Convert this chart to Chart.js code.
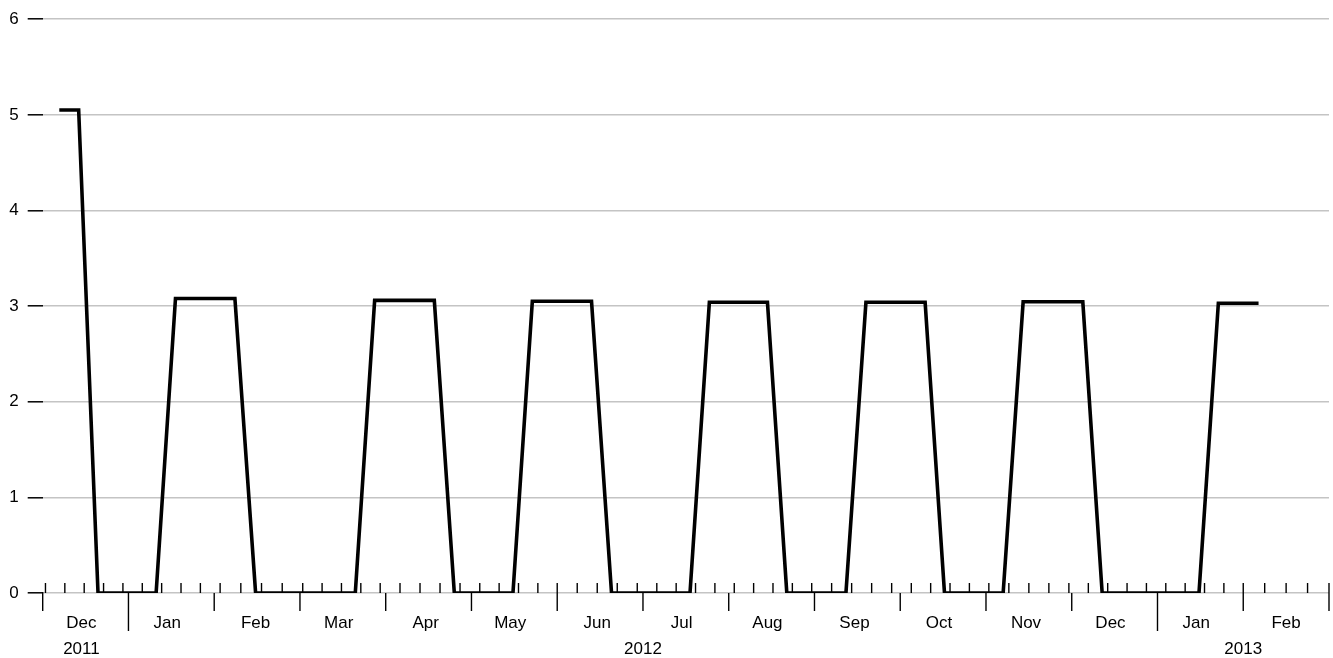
<!DOCTYPE html>
<html>
<head>
<meta charset="utf-8">
<script src="https://cdn.jsdelivr.net/npm/chart.js@4/dist/chart.umd.min.js"></script>
<style>
  html, body { margin: 0; padding: 0; background: #fff; overflow: hidden; }
  #wrap { width: 1333px; height: 658px; position: relative; }
</style>
</head>
<body>
<div id="wrap"><canvas id="c"></canvas></div>
<script>
// ---- data ----
const dates = ['2011-12-07','2011-12-14','2011-12-21','2011-12-28',
  '2012-01-04','2012-01-11','2012-01-18','2012-01-25',
  '2012-02-01','2012-02-08','2012-02-15','2012-02-22','2012-02-29',
  '2012-03-07','2012-03-14','2012-03-21','2012-03-28',
  '2012-04-04','2012-04-11','2012-04-18','2012-04-25',
  '2012-05-02','2012-05-09','2012-05-16','2012-05-23','2012-05-30',
  '2012-06-06','2012-06-13','2012-06-20','2012-06-27',
  '2012-07-04','2012-07-11','2012-07-18','2012-07-25',
  '2012-08-01','2012-08-08','2012-08-15','2012-08-22','2012-08-29',
  '2012-09-05','2012-09-12','2012-09-19','2012-09-26',
  '2012-10-03','2012-10-10','2012-10-17','2012-10-24','2012-10-31',
  '2012-11-07','2012-11-14','2012-11-21','2012-11-28',
  '2012-12-05','2012-12-12','2012-12-19','2012-12-26',
  '2013-01-02','2013-01-09','2013-01-16','2013-01-23','2013-01-30',
  '2013-02-06'];
const values = [5.05,5.05,
  0,0,0,0,
  3.08,3.08,3.08,3.08,
  0,0,0,0,0,0,
  3.06,3.06,3.06,3.06,
  0,0,0,0,
  3.05,3.05,3.05,3.05,
  0,0,0,0,0,
  3.04,3.04,3.04,3.04,
  0,0,0,0,
  3.04,3.04,3.04,3.04,
  0,0,0,0,
  3.045,3.045,3.045,3.045,
  0,0,0,0,0,0,
  3.03,3.03,3.03];
const monthLabels = ['Dec','Jan','Feb','Mar','Apr','May','Jun','Jul','Aug','Sep','Oct','Nov','Dec','Jan','Feb'];
const yearLabels = ['2011','2012','2013'];
const yTicks = [0,1,2,3,4,5,6];
const startYear = 2011, startMonth = 11; // Dec 2011 (0-based month)
const monthCount = 15;

// ---- helpers: month-uniform time mapping ----
function daysIn(y, m) { return new Date(Date.UTC(y, m + 1, 0)).getUTCDate(); }
function toX(y, m, d) {
  const idx = (y - startYear) * 12 + (m - startMonth);
  return idx + (d - 1) / daysIn(y, m);
}
function parseX(s) {
  const [y, m, d] = s.split('-').map(Number);
  return toX(y, m - 1, d);
}
function monthOfIndex(i) {
  const t = startMonth + i;
  return { y: startYear + Math.floor(t / 12), m: t % 12 };
}

const points = dates.map((d, i) => ({ x: parseX(d), y: values[i] }));
const FONT = "'Liberation Sans', Arial, Helvetica, sans-serif";

const axisPlugin = {
  id: 'timeAxis',
  beforeDatasetsDraw(chart) {
    const { ctx, chartArea, scales: { x } } = chart;
    const base = chartArea.bottom;
    ctx.save();
    ctx.strokeStyle = '#000';
    ctx.lineWidth = 1.4;
    const seg = (x0, y0, x1, y1) => { ctx.beginPath(); ctx.moveTo(x0, y0); ctx.lineTo(x1, y1); ctx.stroke(); };
    // weekly ticks (Fridays)
    for (let t = Date.UTC(2011, 11, 2); t <= Date.UTC(2013, 2, 1); t += 7 * 864e5) {
      const dt = new Date(t);
      const px = x.getPixelForValue(toX(dt.getUTCFullYear(), dt.getUTCMonth(), dt.getUTCDate()));
      seg(px, base - 10, px, base);
    }
    // month & year ticks
    for (let i = 0; i <= monthCount; i++) {
      const { m } = monthOfIndex(i);
      const px = x.getPixelForValue(i);
      seg(px, base - (i === 0 ? 1 : 0), px, base + (m === 0 ? 38 : 18));
    }
    // month labels (centred on the 15th)
    ctx.fillStyle = '#000';
    ctx.font = '17px ' + FONT;
    ctx.textAlign = 'center';
    ctx.textBaseline = 'alphabetic';
    const labelPos = [];
    for (let i = 0; i < monthCount; i++) {
      const { y, m } = monthOfIndex(i);
      const px = x.getPixelForValue(toX(y, m, 15));
      labelPos.push(px);
      ctx.fillText(monthLabels[i], px, base + 34.5);
    }
    // year labels
    yearLabels.forEach((yl) => {
      const yr = Number(yl);
      const idx = [];
      for (let i = 0; i < monthCount; i++) if (monthOfIndex(i).y === yr) idx.push(i);
      let px;
      if (idx.length === 1) px = labelPos[idx[0]];
      else px = x.getPixelForValue((idx[0] + idx[idx.length - 1] + 1) / 2);
      ctx.fillText(yl, px, base + 61);
    });
    ctx.restore();
  }
};

new Chart(document.getElementById('c'), {
  type: 'line',
  data: {
    datasets: [{
      data: points,
      borderColor: '#000',
      borderWidth: 3.6,
      pointRadius: 0,
      tension: 0,
      borderJoinStyle: 'miter',
      borderCapStyle: 'butt',
      fill: false
    }]
  },
  plugins: [axisPlugin],
  options: {
    responsive: true,
    maintainAspectRatio: false,
    animation: false,
    layout: { padding: { top: 17, right: 4, bottom: 65, left: 0 } },
    plugins: { legend: { display: false }, tooltip: { enabled: false } },
    scales: {
      x: {
        type: 'linear',
        min: 0,
        max: monthCount,
        display: false
      },
      y: {
        min: 0,
        max: 6,
        afterBuildTicks: (s) => { s.ticks = yTicks.map(v => ({ value: v })); },
        afterFit: (s) => { s.width = 42.7; },
        border: { display: false },
        grid: {
          color: '#c4c4c4',
          lineWidth: 1.6,
          drawTicks: true,
          tickColor: '#000',
          tickLength: 15,
          tickWidth: 1.5
        },
        ticks: {
          color: '#000',
          padding: 9,
          font: { size: 17, family: FONT },
          callback: (v) => String(v)
        }
      }
    }
  }
});
</script>
</body>
</html>
